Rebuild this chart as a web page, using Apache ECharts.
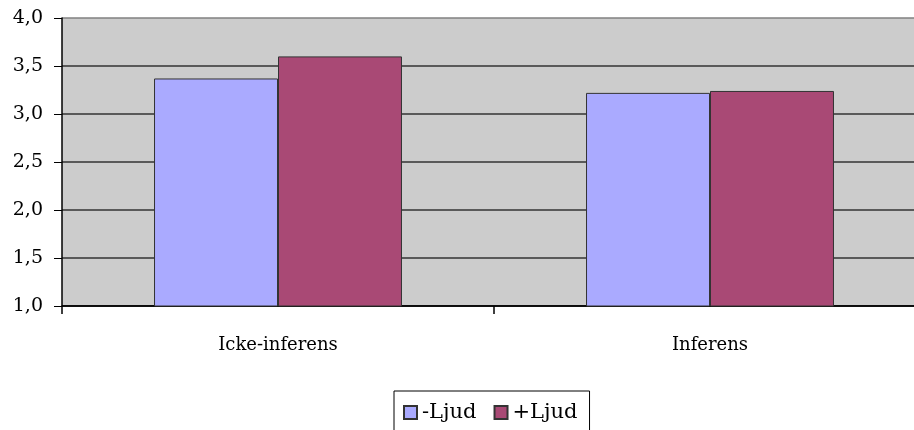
<!DOCTYPE html>
<html>
<head>
<meta charset="utf-8">
<script src="https://cdn.jsdelivr.net/npm/echarts@6/dist/echarts.min.js"></script>
<style>html,body{margin:0;padding:0;background:#fff;}#c{width:914px;height:430px;}</style>
</head>
<body>
<div id="c"></div>
<script>
const categories = ['Icke-inferens', 'Inferens'];
const seriesNames = ['-Ljud', '+Ljud'];
const minusLjud = [3.37, 3.22];
const plusLjud = [3.60, 3.24];
const yMin = 1.0, yMax = 4.0, yStep = 0.5;

const font = '"DejaVu Serif", "Liberation Serif", serif';
const chart = echarts.init(document.getElementById('c'));
chart.setOption({
  animation: false,
  backgroundColor: '#ffffff',
  textStyle: { fontFamily: font },
  grid: { left: 62, top: 18, height: 288, width: 864, outerBoundsMode: 'none', containLabel: false,
    backgroundColor: '#CCCCCC', show: true, borderWidth: 0 },
  legend: {
    data: seriesNames,
    icon: 'rect',
    left: 394, top: 391,
    itemWidth: 13, itemHeight: 13, itemGap: 17,
    padding: [11, 12, 30, 9],
    borderColor: '#000', borderWidth: 1,
    textStyle: { fontFamily: font, fontSize: 21, color: '#000' }
  },
  xAxis: {
    type: 'category',
    data: categories,
    boundaryGap: true,
    axisLine: { lineStyle: { color: '#000', width: 1.5 } },
    axisTick: { show: true, length: 8, lineStyle: { color: '#000', width: 1.5 } },
    axisLabel: { margin: 30, fontFamily: font, fontSize: 18, color: '#000' },
    splitLine: { show: false }
  },
  yAxis: {
    type: 'value',
    min: yMin, max: yMax, interval: yStep,
    axisLine: { show: true, lineStyle: { color: '#000', width: 1.5 } },
    axisTick: { show: true, length: 8, lineStyle: { color: '#000' } },
    axisLabel: { margin: 19, fontFamily: font, fontSize: 19, color: '#000',
      formatter: v => v.toFixed(1).replace('.', ',') },
    splitLine: { show: true, lineStyle: { color: ['#000', '#333', '#333', '#333', '#333', '#333', '#808080'], width: 1.5 } }
  },
  series: [
    { name: seriesNames[0], type: 'bar', data: minusLjud, barGap: '0%', barCategoryGap: '42.6%',
      itemStyle: { color: '#AAAAFF', borderColor: '#333', borderWidth: 1 } },
    { name: seriesNames[1], type: 'bar', data: plusLjud, barGap: '0%', barCategoryGap: '42.6%',
      itemStyle: { color: '#A94975', borderColor: '#333', borderWidth: 1 } }
  ]
});
</script>
</body>
</html>
